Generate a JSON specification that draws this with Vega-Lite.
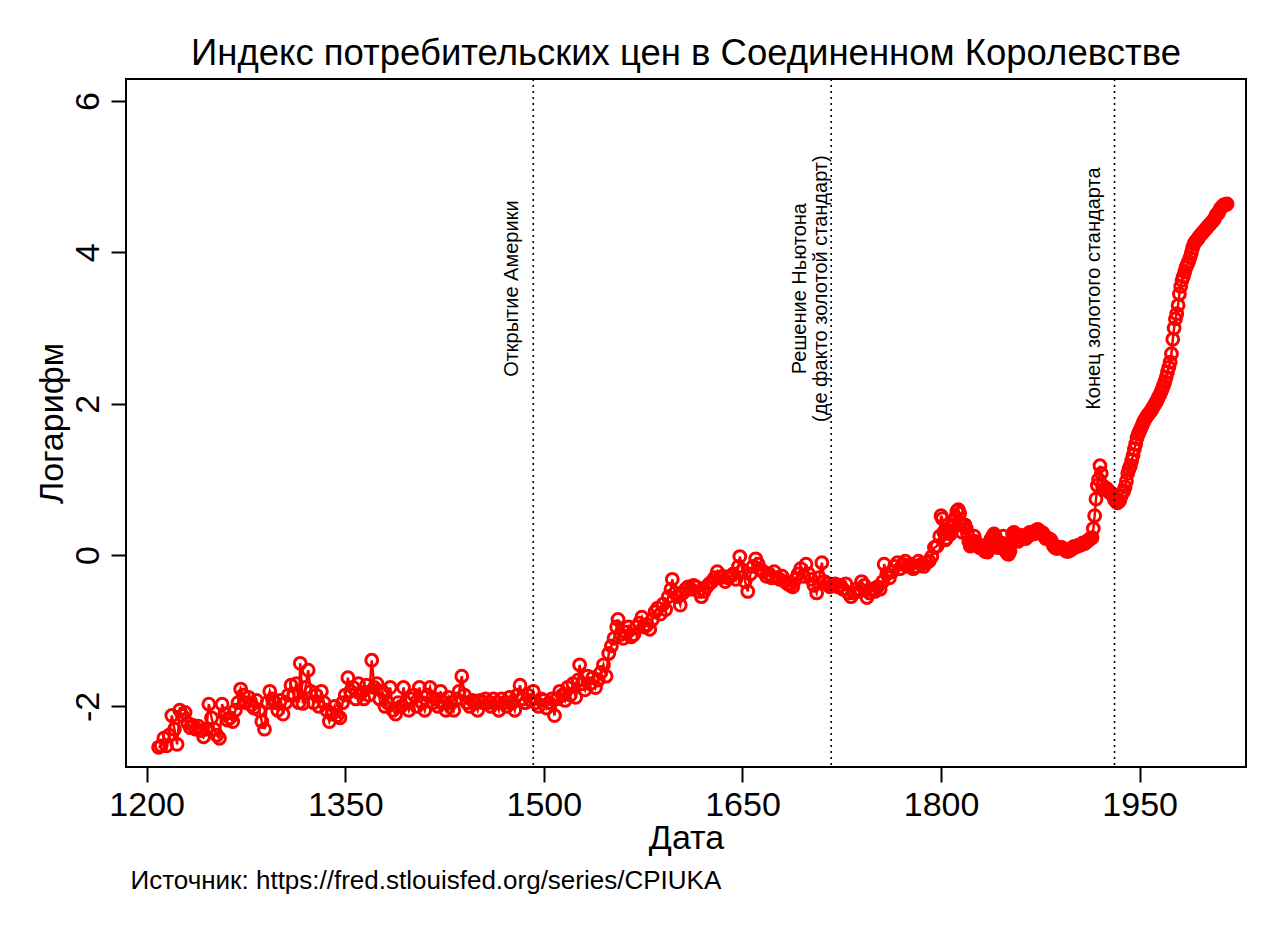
{
  "$schema": "https://vega.github.io/schema/vega-lite/v6.json",
  "autosize": {"type": "none"},
  "width": 1120,
  "height": 688,
  "padding": {"left": 126, "top": 79, "right": 34, "bottom": 164},
  "background": "white",
  "config": {
    "font": "Liberation Sans",
    "view": {"stroke": "black", "strokeWidth": 2},
    "axis": {"grid": false, "domain": false, "tickColor": "black", "tickWidth": 2, "tickSize": 15, "labelColor": "black", "titleColor": "black", "labelFont": "Liberation Sans", "titleFont": "Liberation Sans", "titleFontWeight": "normal"}
  },
  "title": {"text": "Индекс потребительских цен в Соединенном Королевстве", "font": "Liberation Sans", "fontSize": 36.5, "fontWeight": "normal", "color": "black", "anchor": "middle", "frame": "group", "baseline": "alphabetic", "offset": 13, "dy": 36},
  "datasets": {
    "cpi": [
      {"t":1209,"v":-2.54},{"t":1211,"v":-2.52},{"t":1213,"v":-2.42},{"t":1215,"v":-2.52},{"t":1217,"v":-2.38},{"t":1219,"v":-2.12},{"t":1221,"v":-2.3},{"t":1223,"v":-2.5},{"t":1225,"v":-2.05},{"t":1227,"v":-2.12},{"t":1229,"v":-2.08},{"t":1231,"v":-2.22},{"t":1233,"v":-2.28},{"t":1235,"v":-2.25},{"t":1237,"v":-2.3},{"t":1239,"v":-2.26},{"t":1241,"v":-2.32},{"t":1243,"v":-2.4},{"t":1245,"v":-2.3},{"t":1247,"v":-1.97},{"t":1249,"v":-2.15},{"t":1251,"v":-2.3},{"t":1253,"v":-2.38},{"t":1255,"v":-2.42},{"t":1257,"v":-1.97},{"t":1259,"v":-2.1},{"t":1261,"v":-2.18},{"t":1263,"v":-2.15},{"t":1265,"v":-2.2},{"t":1267,"v":-2.05},{"t":1269,"v":-1.95},{"t":1271,"v":-1.77},{"t":1273,"v":-1.85},{"t":1275,"v":-1.95},{"t":1277,"v":-1.88},{"t":1279,"v":-1.98},{"t":1281,"v":-2.02},{"t":1283,"v":-1.92},{"t":1285,"v":-2.05},{"t":1287,"v":-2.2},{"t":1289,"v":-2.3},{"t":1291,"v":-1.95},{"t":1293,"v":-1.8},{"t":1295,"v":-1.9},{"t":1297,"v":-1.95},{"t":1299,"v":-2.05},{"t":1301,"v":-1.92},{"t":1303,"v":-2.1},{"t":1305,"v":-1.95},{"t":1307,"v":-1.85},{"t":1309,"v":-1.72},{"t":1311,"v":-1.85},{"t":1313,"v":-1.7},{"t":1315,"v":-1.95},{"t":1316,"v":-1.43},{"t":1318,"v":-1.96},{"t":1320,"v":-1.75},{"t":1322,"v":-1.52},{"t":1324,"v":-1.8},{"t":1326,"v":-1.95},{"t":1328,"v":-1.85},{"t":1330,"v":-2.0},{"t":1332,"v":-1.8},{"t":1334,"v":-1.95},{"t":1336,"v":-2.05},{"t":1338,"v":-2.2},{"t":1340,"v":-2.1},{"t":1342,"v":-2.0},{"t":1344,"v":-2.12},{"t":1346,"v":-2.15},{"t":1348,"v":-1.95},{"t":1350,"v":-1.85},{"t":1352,"v":-1.62},{"t":1354,"v":-1.8},{"t":1356,"v":-1.75},{"t":1358,"v":-1.9},{"t":1360,"v":-1.7},{"t":1362,"v":-1.82},{"t":1364,"v":-1.9},{"t":1366,"v":-1.72},{"t":1368,"v":-1.85},{"t":1370,"v":-1.39},{"t":1372,"v":-1.75},{"t":1374,"v":-1.7},{"t":1376,"v":-1.9},{"t":1378,"v":-1.8},{"t":1380,"v":-2.0},{"t":1382,"v":-1.95},{"t":1384,"v":-1.75},{"t":1386,"v":-2.05},{"t":1388,"v":-2.1},{"t":1390,"v":-1.95},{"t":1392,"v":-2.0},{"t":1394,"v":-1.75},{"t":1396,"v":-1.95},{"t":1398,"v":-2.05},{"t":1400,"v":-1.9},{"t":1402,"v":-1.85},{"t":1404,"v":-2.0},{"t":1406,"v":-1.75},{"t":1408,"v":-1.95},{"t":1410,"v":-2.05},{"t":1412,"v":-1.85},{"t":1414,"v":-1.75},{"t":1416,"v":-1.95},{"t":1418,"v":-1.9},{"t":1420,"v":-2.0},{"t":1422,"v":-1.8},{"t":1424,"v":-1.95},{"t":1426,"v":-2.05},{"t":1428,"v":-1.88},{"t":1430,"v":-1.95},{"t":1432,"v":-2.05},{"t":1434,"v":-1.9},{"t":1436,"v":-1.8},{"t":1438,"v":-1.6},{"t":1440,"v":-1.85},{"t":1442,"v":-1.95},{"t":1444,"v":-2.0},{"t":1446,"v":-1.92},{"t":1448,"v":-1.95},{"t":1450,"v":-2.05},{"t":1452,"v":-1.92},{"t":1454,"v":-1.95},{"t":1456,"v":-1.9},{"t":1458,"v":-1.95},{"t":1460,"v":-2.0},{"t":1462,"v":-1.9},{"t":1464,"v":-1.95},{"t":1466,"v":-2.05},{"t":1468,"v":-1.9},{"t":1470,"v":-1.95},{"t":1472,"v":-2.0},{"t":1474,"v":-1.88},{"t":1476,"v":-1.95},{"t":1478,"v":-2.05},{"t":1480,"v":-1.85},{"t":1482,"v":-1.72},{"t":1484,"v":-1.9},{"t":1486,"v":-1.95},{"t":1488,"v":-1.85},{"t":1490,"v":-1.92},{"t":1492,"v":-1.8},{"t":1494,"v":-1.95},{"t":1496,"v":-2.0},{"t":1498,"v":-1.9},{"t":1500,"v":-1.92},{"t":1502,"v":-2.02},{"t":1504,"v":-1.95},{"t":1506,"v":-1.9},{"t":1508,"v":-2.12},{"t":1510,"v":-1.9},{"t":1512,"v":-1.8},{"t":1514,"v":-1.85},{"t":1516,"v":-1.92},{"t":1518,"v":-1.75},{"t":1520,"v":-1.85},{"t":1522,"v":-1.7},{"t":1524,"v":-1.88},{"t":1526,"v":-1.65},{"t":1527,"v":-1.45},{"t":1529,"v":-1.7},{"t":1531,"v":-1.78},{"t":1533,"v":-1.6},{"t":1535,"v":-1.7},{"t":1537,"v":-1.62},{"t":1539,"v":-1.75},{"t":1541,"v":-1.65},{"t":1543,"v":-1.55},{"t":1545,"v":-1.45},{"t":1547,"v":-1.6},{"t":1549,"v":-1.3},{"t":1551,"v":-1.2},{"t":1553,"v":-1.1},{"t":1555,"v":-0.95},{"t":1556,"v":-0.85},{"t":1558,"v":-1.05},{"t":1560,"v":-1.1},{"t":1562,"v":-1.02},{"t":1564,"v":-0.95},{"t":1566,"v":-1.08},{"t":1568,"v":-1.05},{"t":1570,"v":-0.95},{"t":1572,"v":-0.9},{"t":1574,"v":-0.82},{"t":1576,"v":-0.95},{"t":1578,"v":-0.92},{"t":1580,"v":-0.98},{"t":1582,"v":-0.85},{"t":1584,"v":-0.75},{"t":1586,"v":-0.7},{"t":1588,"v":-0.78},{"t":1590,"v":-0.65},{"t":1592,"v":-0.72},{"t":1594,"v":-0.55},{"t":1596,"v":-0.45},{"t":1597,"v":-0.32},{"t":1599,"v":-0.5},{"t":1601,"v":-0.55},{"t":1603,"v":-0.66},{"t":1605,"v":-0.5},{"t":1607,"v":-0.45},{"t":1609,"v":-0.42},{"t":1611,"v":-0.45},{"t":1613,"v":-0.4},{"t":1615,"v":-0.42},{"t":1617,"v":-0.48},{"t":1619,"v":-0.55},{"t":1621,"v":-0.48},{"t":1623,"v":-0.42},{"t":1625,"v":-0.38},{"t":1627,"v":-0.35},{"t":1629,"v":-0.3},{"t":1631,"v":-0.22},{"t":1633,"v":-0.3},{"t":1635,"v":-0.28},{"t":1637,"v":-0.35},{"t":1639,"v":-0.3},{"t":1641,"v":-0.28},{"t":1643,"v":-0.25},{"t":1645,"v":-0.32},{"t":1647,"v":-0.15},{"t":1648,"v":-0.02},{"t":1650,"v":-0.2},{"t":1652,"v":-0.35},{"t":1654,"v":-0.48},{"t":1656,"v":-0.25},{"t":1658,"v":-0.15},{"t":1660,"v":-0.05},{"t":1662,"v":-0.12},{"t":1664,"v":-0.2},{"t":1666,"v":-0.22},{"t":1668,"v":-0.28},{"t":1670,"v":-0.25},{"t":1672,"v":-0.3},{"t":1674,"v":-0.22},{"t":1676,"v":-0.3},{"t":1678,"v":-0.32},{"t":1680,"v":-0.28},{"t":1682,"v":-0.35},{"t":1684,"v":-0.38},{"t":1686,"v":-0.4},{"t":1688,"v":-0.42},{"t":1690,"v":-0.32},{"t":1692,"v":-0.25},{"t":1694,"v":-0.18},{"t":1696,"v":-0.28},{"t":1698,"v":-0.12},{"t":1700,"v":-0.25},{"t":1702,"v":-0.32},{"t":1704,"v":-0.4},{"t":1706,"v":-0.5},{"t":1708,"v":-0.3},{"t":1710,"v":-0.1},{"t":1712,"v":-0.35},{"t":1714,"v":-0.38},{"t":1716,"v":-0.42},{"t":1718,"v":-0.4},{"t":1720,"v":-0.38},{"t":1722,"v":-0.42},{"t":1724,"v":-0.4},{"t":1726,"v":-0.45},{"t":1728,"v":-0.38},{"t":1730,"v":-0.5},{"t":1732,"v":-0.55},{"t":1734,"v":-0.5},{"t":1736,"v":-0.45},{"t":1738,"v":-0.48},{"t":1740,"v":-0.35},{"t":1742,"v":-0.4},{"t":1744,"v":-0.56},{"t":1746,"v":-0.5},{"t":1748,"v":-0.45},{"t":1750,"v":-0.48},{"t":1752,"v":-0.42},{"t":1754,"v":-0.45},{"t":1756,"v":-0.35},{"t":1757,"v":-0.12},{"t":1759,"v":-0.25},{"t":1761,"v":-0.3},{"t":1763,"v":-0.22},{"t":1765,"v":-0.15},{"t":1767,"v":-0.1},{"t":1769,"v":-0.18},{"t":1771,"v":-0.12},{"t":1773,"v":-0.08},{"t":1775,"v":-0.15},{"t":1777,"v":-0.12},{"t":1779,"v":-0.18},{"t":1781,"v":-0.15},{"t":1783,"v":-0.08},{"t":1785,"v":-0.12},{"t":1787,"v":-0.15},{"t":1789,"v":-0.1},{"t":1791,"v":-0.08},{"t":1793,"v":-0.02},{"t":1795,"v":0.1},{"t":1797,"v":0.12},{"t":1799,"v":0.25},{"t":1800,"v":0.52},{"t":1801,"v":0.48},{"t":1802,"v":0.3},{"t":1803,"v":0.2},{"t":1804,"v":0.22},{"t":1805,"v":0.32},{"t":1806,"v":0.3},{"t":1807,"v":0.28},{"t":1808,"v":0.32},{"t":1809,"v":0.4},{"t":1810,"v":0.45},{"t":1811,"v":0.5},{"t":1812,"v":0.58},{"t":1813,"v":0.6},{"t":1814,"v":0.55},{"t":1815,"v":0.42},{"t":1816,"v":0.3},{"t":1817,"v":0.38},{"t":1818,"v":0.4},{"t":1819,"v":0.35},{"t":1820,"v":0.28},{"t":1821,"v":0.18},{"t":1822,"v":0.12},{"t":1823,"v":0.15},{"t":1824,"v":0.18},{"t":1825,"v":0.25},{"t":1826,"v":0.18},{"t":1827,"v":0.15},{"t":1828,"v":0.12},{"t":1829,"v":0.1},{"t":1830,"v":0.1},{"t":1831,"v":0.12},{"t":1832,"v":0.08},{"t":1833,"v":0.05},{"t":1834,"v":0.05},{"t":1835,"v":0.04},{"t":1836,"v":0.12},{"t":1837,"v":0.18},{"t":1838,"v":0.22},{"t":1839,"v":0.25},{"t":1840,"v":0.28},{"t":1841,"v":0.25},{"t":1842,"v":0.18},{"t":1843,"v":0.1},{"t":1844,"v":0.1},{"t":1845,"v":0.12},{"t":1846,"v":0.15},{"t":1847,"v":0.25},{"t":1848,"v":0.12},{"t":1849,"v":0.05},{"t":1850,"v":0.02},{"t":1851,"v":0.01},{"t":1852,"v":0.05},{"t":1853,"v":0.18},{"t":1854,"v":0.28},{"t":1855,"v":0.3},{"t":1856,"v":0.28},{"t":1857,"v":0.25},{"t":1858,"v":0.18},{"t":1859,"v":0.2},{"t":1860,"v":0.24},{"t":1861,"v":0.26},{"t":1862,"v":0.25},{"t":1863,"v":0.22},{"t":1864,"v":0.22},{"t":1865,"v":0.24},{"t":1866,"v":0.26},{"t":1867,"v":0.3},{"t":1868,"v":0.3},{"t":1869,"v":0.28},{"t":1870,"v":0.28},{"t":1871,"v":0.3},{"t":1872,"v":0.33},{"t":1873,"v":0.34},{"t":1874,"v":0.32},{"t":1875,"v":0.3},{"t":1876,"v":0.3},{"t":1877,"v":0.29},{"t":1878,"v":0.25},{"t":1879,"v":0.22},{"t":1880,"v":0.23},{"t":1881,"v":0.22},{"t":1882,"v":0.21},{"t":1883,"v":0.2},{"t":1884,"v":0.16},{"t":1885,"v":0.12},{"t":1886,"v":0.1},{"t":1887,"v":0.09},{"t":1888,"v":0.09},{"t":1889,"v":0.1},{"t":1890,"v":0.1},{"t":1891,"v":0.1},{"t":1892,"v":0.09},{"t":1893,"v":0.08},{"t":1894,"v":0.06},{"t":1895,"v":0.05},{"t":1896,"v":0.05},{"t":1897,"v":0.06},{"t":1898,"v":0.07},{"t":1899,"v":0.08},{"t":1900,"v":0.11},{"t":1901,"v":0.11},{"t":1902,"v":0.11},{"t":1903,"v":0.12},{"t":1904,"v":0.13},{"t":1905,"v":0.13},{"t":1906,"v":0.14},{"t":1907,"v":0.16},{"t":1908,"v":0.15},{"t":1909,"v":0.16},{"t":1910,"v":0.18},{"t":1911,"v":0.19},{"t":1912,"v":0.21},{"t":1913,"v":0.22},{"t":1914,"v":0.23},{"t":1915,"v":0.35},{"t":1916,"v":0.52},{"t":1917,"v":0.74},{"t":1918,"v":0.92},{"t":1919,"v":1.0},{"t":1920,"v":1.18},{"t":1921,"v":1.08},{"t":1922,"v":0.92},{"t":1923,"v":0.87},{"t":1924,"v":0.88},{"t":1925,"v":0.88},{"t":1926,"v":0.86},{"t":1927,"v":0.83},{"t":1928,"v":0.82},{"t":1929,"v":0.81},{"t":1930,"v":0.78},{"t":1931,"v":0.73},{"t":1932,"v":0.71},{"t":1933,"v":0.69},{"t":1934,"v":0.7},{"t":1935,"v":0.72},{"t":1936,"v":0.78},{"t":1937,"v":0.82},{"t":1938,"v":0.85},{"t":1939,"v":0.9},{"t":1940,"v":0.98},{"t":1941,"v":1.08},{"t":1942,"v":1.14},{"t":1943,"v":1.18},{"t":1944,"v":1.25},{"t":1945,"v":1.32},{"t":1946,"v":1.4},{"t":1947,"v":1.47},{"t":1948,"v":1.55},{"t":1949,"v":1.6},{"t":1950,"v":1.64},{"t":1951,"v":1.68},{"t":1952,"v":1.72},{"t":1953,"v":1.76},{"t":1954,"v":1.79},{"t":1955,"v":1.82},{"t":1956,"v":1.85},{"t":1957,"v":1.87},{"t":1958,"v":1.89},{"t":1959,"v":1.92},{"t":1960,"v":1.95},{"t":1961,"v":1.98},{"t":1962,"v":2.01},{"t":1963,"v":2.04},{"t":1964,"v":2.08},{"t":1965,"v":2.11},{"t":1966,"v":2.15},{"t":1967,"v":2.19},{"t":1968,"v":2.24},{"t":1969,"v":2.29},{"t":1970,"v":2.35},{"t":1971,"v":2.42},{"t":1972,"v":2.48},{"t":1973,"v":2.55},{"t":1974,"v":2.66},{"t":1975,"v":2.85},{"t":1976,"v":3.0},{"t":1977,"v":3.12},{"t":1978,"v":3.19},{"t":1979,"v":3.3},{"t":1980,"v":3.45},{"t":1981,"v":3.55},{"t":1982,"v":3.63},{"t":1983,"v":3.68},{"t":1984,"v":3.74},{"t":1985,"v":3.8},{"t":1986,"v":3.84},{"t":1987,"v":3.88},{"t":1988,"v":3.93},{"t":1989,"v":3.99},{"t":1990,"v":4.06},{"t":1991,"v":4.11},{"t":1992,"v":4.14},{"t":1993,"v":4.16},{"t":1994,"v":4.18},{"t":1995,"v":4.21},{"t":1996,"v":4.23},{"t":1997,"v":4.25},{"t":1998,"v":4.27},{"t":1999,"v":4.29},{"t":2000,"v":4.31},{"t":2001,"v":4.33},{"t":2002,"v":4.35},{"t":2003,"v":4.37},{"t":2004,"v":4.39},{"t":2005,"v":4.41},{"t":2006,"v":4.43},{"t":2007,"v":4.46},{"t":2008,"v":4.5},{"t":2009,"v":4.51},{"t":2010,"v":4.54},{"t":2011,"v":4.58},{"t":2012,"v":4.6},{"t":2013,"v":4.62},{"t":2014,"v":4.63},{"t":2015,"v":4.63},{"t":2016,"v":4.64}
    ],
    "events": [
      {"t": 1492, "label": ["Открытие Америки"]},
      {"t": 1717, "label": ["Решение Ньютона", "(де факто золотой стандарт)"]},
      {"t": 1931, "label": ["Конец золотого стандарта"]}
    ]
  },
  "resolve": {"axis": {"x": "independent"}},
  "layer": [
    {
      "data": {"name": "cpi"},
      "mark": {"type": "line", "color": "#ff0000", "strokeWidth": 2.5},
      "encoding": {
        "x": {"field": "t", "type": "quantitative", "scale": {"domain": [1184.4, 2030.3], "nice": false, "zero": false},
          "axis": {"title": "Дата", "values": [1200, 1350, 1500, 1650, 1800, 1950], "format": "d", "labelFontSize": 34, "labelPadding": 6, "titleFontSize": 34, "titlePadding": -1}},
        "y": {"field": "v", "type": "quantitative", "scale": {"domain": [-2.8, 6.29], "nice": false, "zero": false},
          "axis": {"title": "Логарифм", "values": [-2, 0, 2, 4, 6], "labelExpr": "'' + datum.value", "labelAngle": 270, "labelAlign": "center", "labelBaseline": "bottom", "labelFontSize": 34, "labelPadding": 6, "titleFontSize": 34, "titlePadding": 2}}
      }
    },
    {
      "data": {"name": "cpi"},
      "mark": {"type": "point", "shape": "circle", "filled": false, "color": "#ff0000", "strokeWidth": 3, "size": 140, "opacity": 1},
      "encoding": {
        "x": {"field": "t", "type": "quantitative", "axis": null},
        "y": {"field": "v", "type": "quantitative"}
      }
    },
    {
      "data": {"name": "events"},
      "mark": {"type": "rule", "color": "black", "strokeWidth": 1.6, "strokeDash": [2, 4]},
      "encoding": {
        "x": {"field": "t", "type": "quantitative",
          "axis": {"orient": "bottom", "title": "Источник: https://fred.stlouisfed.org/series/CPIUKA", "ticks": false, "labels": false, "domain": false, "titleFontSize": 26, "titleAnchor": "start", "titleAlign": "left", "titleBaseline": "middle", "titleX": 4, "titleY": 113}}
      }
    },
    {
      "data": {"name": "events"},
      "transform": [{"filter": "datum.t != 1717"}],
      "mark": {"type": "text", "angle": 270, "align": "center", "baseline": "middle", "dy": -21, "fontSize": 20, "color": "black", "font": "Liberation Sans"},
      "encoding": {
        "x": {"field": "t", "type": "quantitative", "axis": null},
        "y": {"datum": 3.52},
        "text": {"field": "label"}
      }
    },
    {
      "data": {"name": "events"},
      "transform": [{"filter": "datum.t == 1717"}],
      "mark": {"type": "text", "angle": 270, "align": "center", "baseline": "middle", "dy": -31, "fontSize": 20, "lineHeight": 21, "color": "black", "font": "Liberation Sans"},
      "encoding": {
        "x": {"field": "t", "type": "quantitative", "axis": null},
        "y": {"datum": 3.52},
        "text": {"field": "label"}
      }
    }
  ]
}
